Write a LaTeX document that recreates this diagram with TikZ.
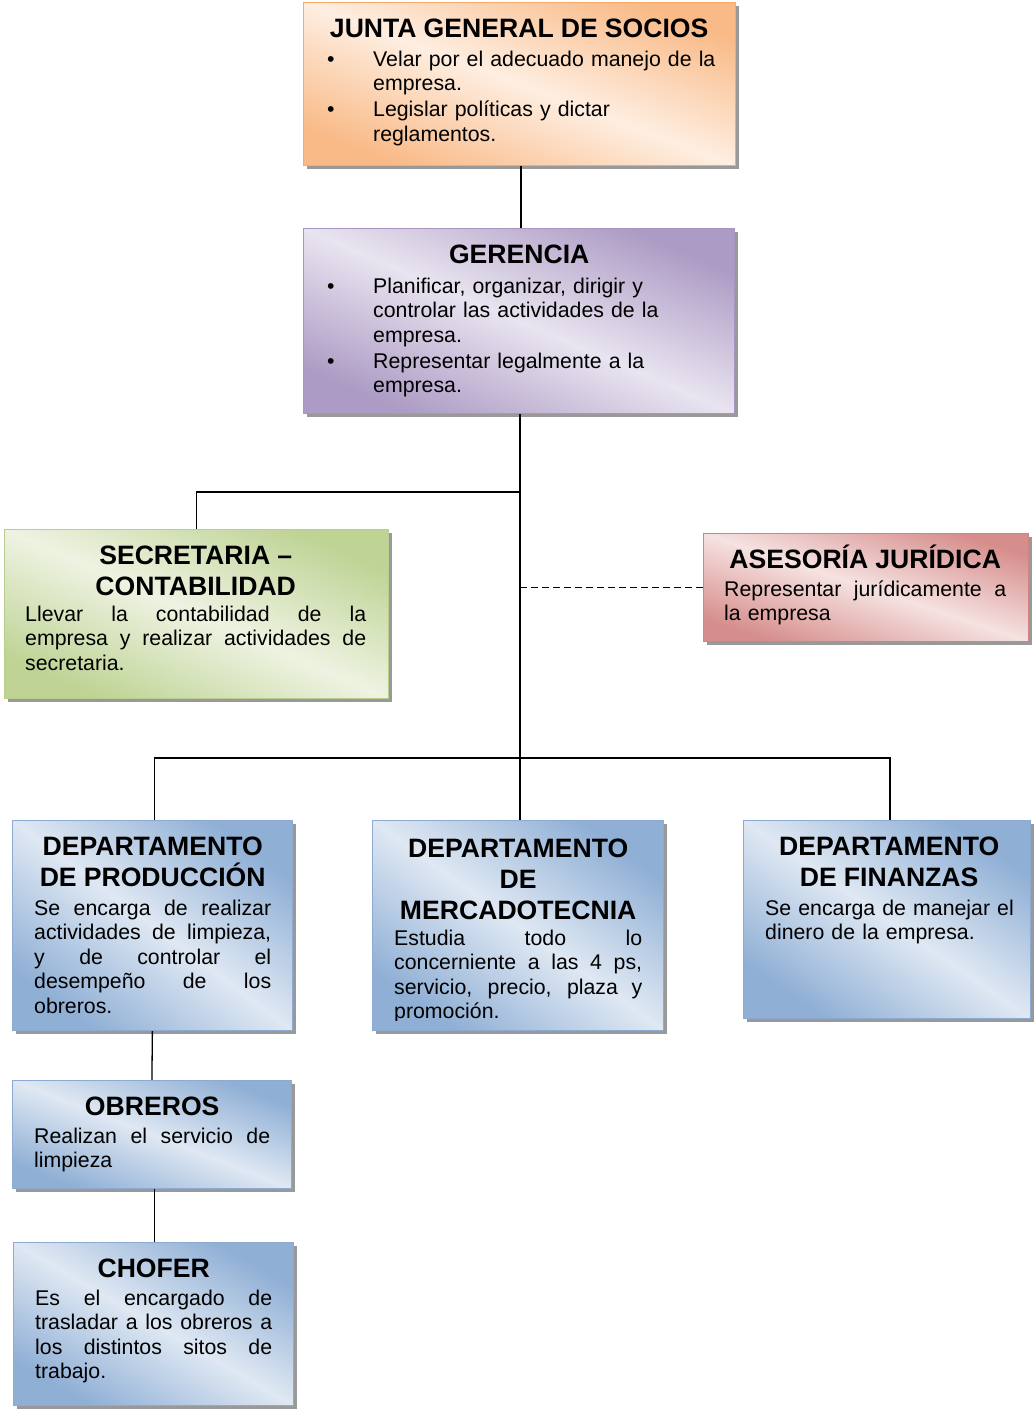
\documentclass[tikz,border=0pt]{standalone}
\usepackage{fontspec}
\setmainfont{Liberation Sans}
\usetikzlibrary{shadows,backgrounds}

\definecolor{orD}{RGB}{249,186,135}
\definecolor{orL}{RGB}{254,238,225}
\definecolor{orB}{RGB}{246,170,108}
\definecolor{puD}{RGB}{172,155,196}
\definecolor{puL}{RGB}{233,228,240}
\definecolor{puB}{RGB}{168,150,192}
\definecolor{grD}{RGB}{190,211,148}
\definecolor{grL}{RGB}{238,243,226}
\definecolor{grB}{RGB}{184,206,140}
\definecolor{reD}{RGB}{214,142,140}
\definecolor{reL}{RGB}{245,226,225}
\definecolor{reB}{RGB}{208,132,130}
\definecolor{blD}{RGB}{143,175,213}
\definecolor{blL}{RGB}{223,232,243}
\definecolor{blB}{RGB}{140,170,210}

\newcommand\TL[1]{{\fontsize{26.6}{31}\selectfont\bfseries\makebox[\linewidth][c]{#1}\par}}
\newcommand\FTL[1]{\TL{\vrule height 26pt depth 0pt width 0pt#1}}
\newcommand\JL[1]{\hbox to\linewidth{\spaceskip=0.278em plus 1fil\relax #1}}
\newcommand\LL[1]{\hbox to\linewidth{#1\hfil}}
\newcommand\BL[1]{\hbox to\linewidth{\hbox to 55pt{\hspace{9pt}\textbullet\hfil}#1\hfil}}
\newcommand\IL[1]{\hbox to\linewidth{\hspace{55pt}#1\hfil}}

\begin{document}
\begin{tikzpicture}[x=1pt,y=-1pt,
  boxbase/.style={rectangle, anchor=north west, inner sep=0pt, line width=0.8pt,
    drop shadow={shadow xshift=3.5pt, shadow yshift=-4pt, fill=black, opacity=0.4}},
  orbox/.style={boxbase, draw=orB, left color=orD, right color=orD, middle color=orL, shading angle=#1},
  pubox/.style={boxbase, draw=puB, left color=puD, right color=puD, middle color=puL, shading angle=#1},
  grbox/.style={boxbase, draw=grB, left color=grD, right color=grD, middle color=grL, shading angle=#1},
  rebox/.style={boxbase, draw=reB, left color=reD, right color=reD, middle color=reL, shading angle=#1},
  blbox/.style={boxbase, draw=blB, left color=blD, right color=blD, middle color=blL, shading angle=#1},
  txt/.style={anchor=north west, inner sep=0pt, font=\fontsize{21.3}{24.5}\selectfont, text=black},
  conn/.style={line width=1.3pt, black},
  dashconn/.style={conn, dash pattern=on 7pt off 4pt},
]
\useasboundingbox (0,0) rectangle (1033,1410);

% boxes
\node[orbox=-20.7, minimum width=432pt, minimum height=163pt] (j) at (303,2) {};
\node[pubox=-23.2, minimum width=431pt, minimum height=185pt] (g) at (303,228) {};
\node[grbox=-23.8, minimum width=384pt, minimum height=169pt] (s) at (4,529) {};
\node[rebox=-18.4, minimum width=325pt, minimum height=108pt] (a) at (703,533) {};
\node[blbox=-36.9, minimum width=280pt, minimum height=210pt] (p) at (12,820) {};
\node[blbox=-35.8, minimum width=291pt, minimum height=210pt] (m) at (372,820) {};
\node[blbox=-34.6, minimum width=287pt, minimum height=198pt] (f) at (743,820) {};
\node[blbox=-21.2, minimum width=279pt, minimum height=108pt] (o) at (12,1080) {};
\node[blbox=-30.2, minimum width=280pt, minimum height=163pt] (c) at (13,1242) {};

% texts
\node[txt, text width=402pt] (jt) at (318,11) {\FTL{JUNTA GENERAL DE SOCIOS}\vspace{4.5pt}%
\BL{Velar por el adecuado manejo de la}\IL{empresa.}\vspace{1.5pt}%
\BL{Legislar políticas y dictar}\IL{reglamentos.}};

\node[txt, text width=402pt] (gt) at (318,237) {\FTL{GERENCIA}\vspace{5.5pt}%
\BL{Planificar, organizar, dirigir y}\IL{controlar las actividades de la}\IL{empresa.}\vspace{1.5pt}%
\BL{Representar legalmente a la}\IL{empresa.}};

\node[txt, text width=341pt] (st) at (25,538) {\FTL{SECRETARIA –}\TL{CONTABILIDAD}\vspace{1.5pt}%
\JL{Llevar la contabilidad de la}\JL{empresa y realizar actividades de}\LL{secretaria.}};

\node[txt, text width=282pt] (at) at (724,542) {\FTL{ASESORÍA JURÍDICA}\vspace{3.5pt}%
\JL{Representar jurídicamente a}\LL{la empresa}};

\node[txt, text width=237pt] (pt) at (34,829) {\FTL{DEPARTAMENTO}\TL{DE PRODUCCIÓN}\vspace{4.5pt}%
\JL{Se encarga de realizar}\JL{actividades de limpieza,}\JL{y de controlar el}\JL{desempeño de los}\LL{obreros.}};

\begin{scope}
\clip (372,820) rectangle (663,1020);
\node[txt, text width=248pt] (mt) at (394,831) {\FTL{DEPARTAMENTO}\TL{DE}\TL{MERCADOTECNIA}\vspace{1.5pt}%
\JL{Estudia todo lo}\JL{concerniente a las 4 ps,}\JL{servicio, precio, plaza y}\LL{promoción.}};
\end{scope}

\node[txt, text width=248pt] (ft) at (765,829) {\FTL{DEPARTAMENTO}\TL{DE FINANZAS}\vspace{4.5pt}%
\LL{Se encarga de manejar el}\LL{dinero de la empresa.}};

\node[txt, text width=236pt] (ot) at (34,1089) {\FTL{OBREROS}\vspace{3.5pt}%
\JL{Realizan el servicio de}\LL{limpieza}};

\node[txt, text width=237pt] (ct) at (35,1251) {\FTL{CHOFER}\vspace{3.5pt}%
\JL{Es el encargado de}\JL{trasladar a los obreros a}\JL{los distintos sitos de}\LL{trabajo.}};

% connectors
\begin{scope}[on background layer]
\draw[conn] ([xshift=1.5pt]j.south) -- ([xshift=1.5pt]j.south |- g.north);
\draw[conn] ([xshift=1pt]g.south) -- ([xshift=1pt]g.south |- m.north);
\draw[conn] ([xshift=1pt]g.south |- 0,492) -| (s.north);
\coordinate (bus) at (0,758);
\draw[conn] ([xshift=2pt]p.north) -- ([xshift=2pt]p.north |- bus) -- ([xshift=3pt]f.north |- bus) -- ([xshift=3pt]f.north);
\draw[dashconn] (a.west) -- (a.west -| g.south);
\draw[conn] (p.south) -- (o.north);
\draw[conn] ([xshift=1pt]c.north |- o.south) -- ([xshift=1pt]c.north);
\end{scope}
\end{tikzpicture}
\end{document}
